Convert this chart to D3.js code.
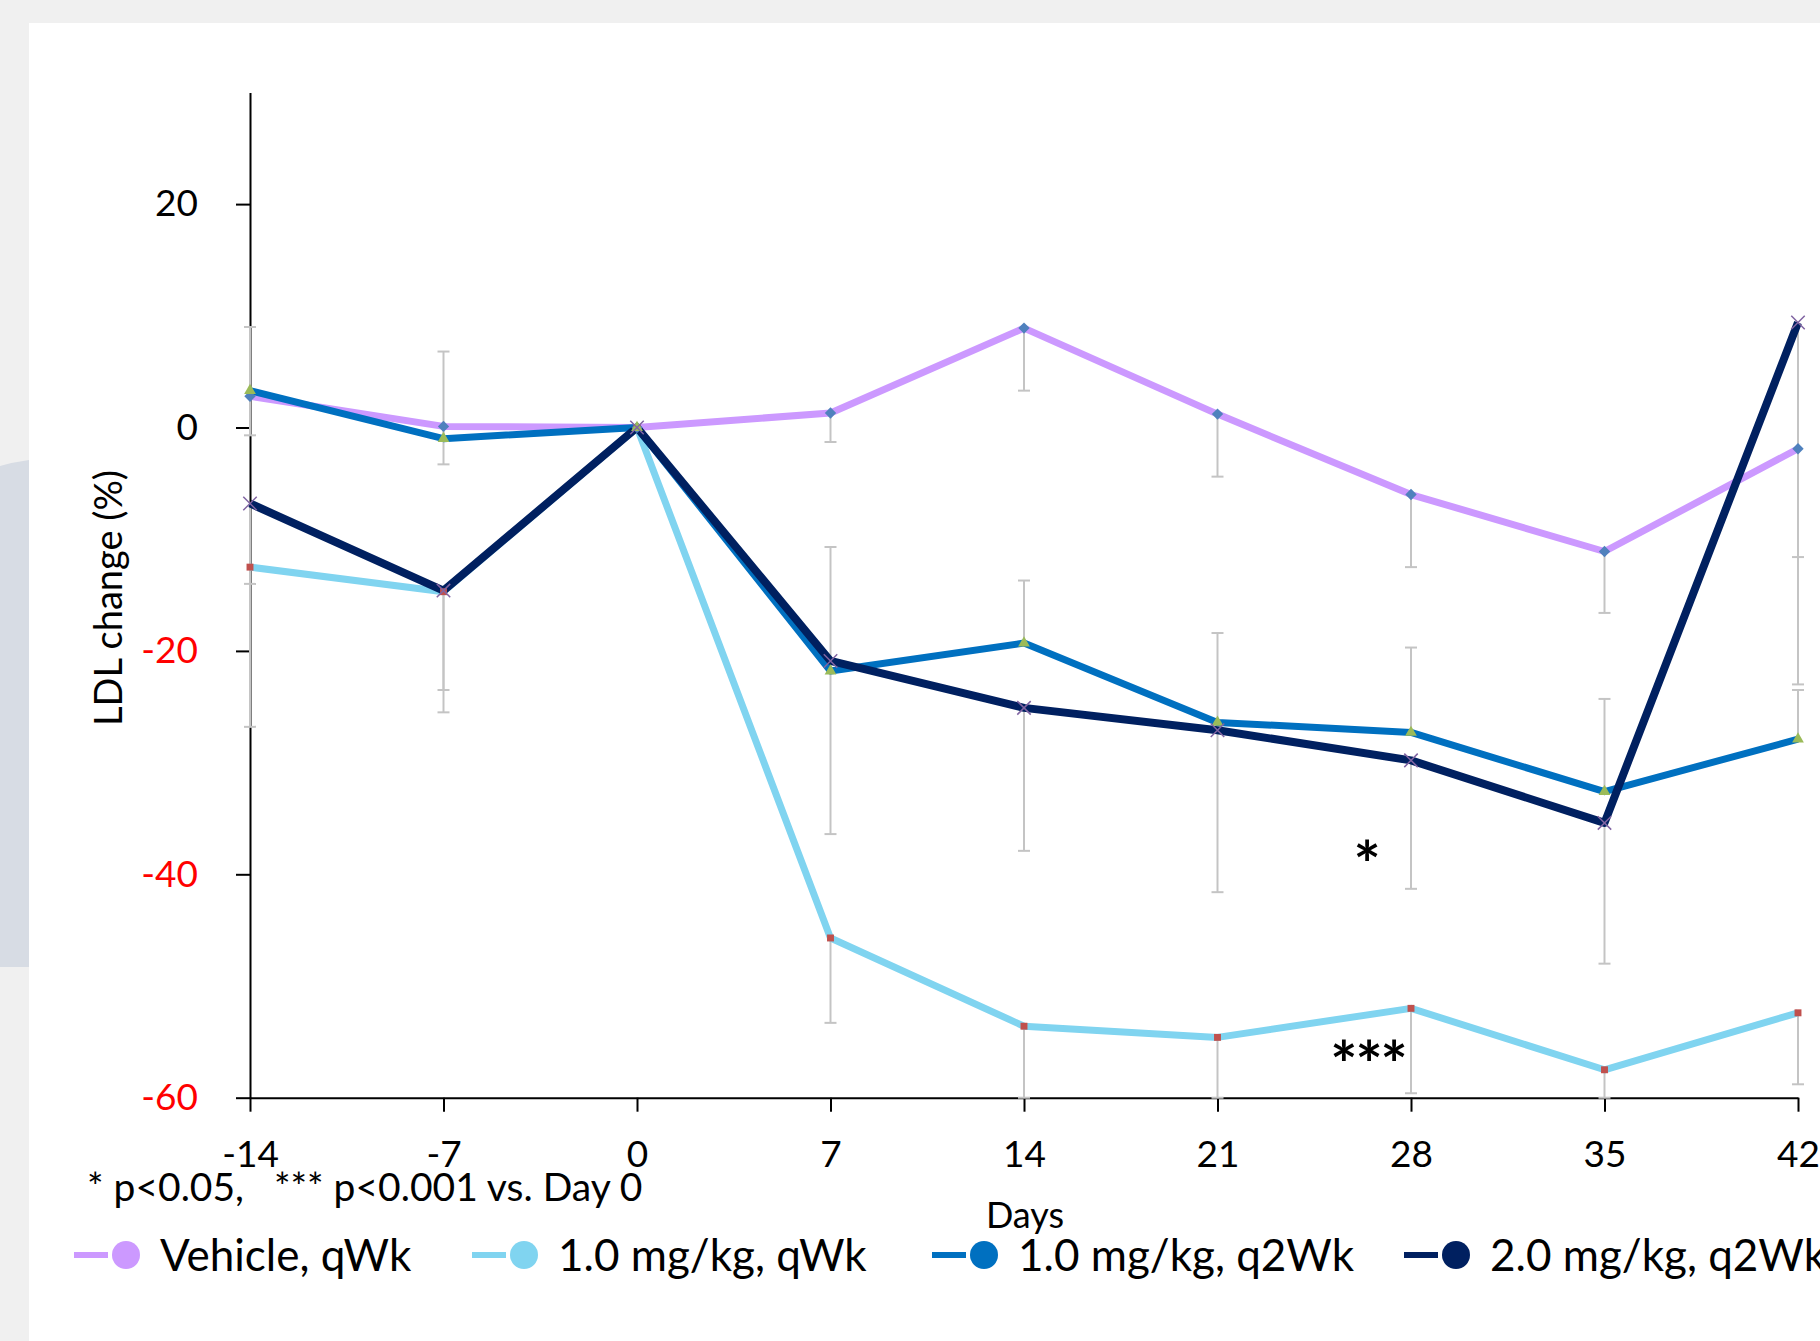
<!DOCTYPE html>
<html>
<head>
<meta charset="utf-8">
<script src="https://cdn.jsdelivr.net/npm/d3@7"></script>
<style>
  html, body { margin: 0; padding: 0; background: #f0f0f0; overflow: hidden; }
  text { font-family: Lato, "Open Sans", sans-serif; fill: #000; }
</style>
</head>
<body>
<div id="chart"></div>
<script>
// ---- data ----
var days = [-14, -7, 0, 7, 14, 21, 28, 35, 42];
var seriesNames = ["Vehicle, qWk", "1.0 mg/kg, qWk", "1.0 mg/kg, q2Wk", "2.0 mg/kg, q2Wk"];
var vehicle = [2.8, 0.1, 0, 1.3, 8.9, 1.2, -6.0, -11.1, -1.9];
var qwk10   = [-12.5, -14.7, 0, -45.7, -53.6, -54.6, -52.0, -57.5, -52.4];
var q2wk10  = [3.3, -1.0, 0, -21.8, -19.3, -26.4, -27.3, -32.6, -27.9];
var q2wk20  = [-6.8, -14.6, 0, -20.9, -25.1, -27.1, -29.8, -35.4, 9.4];
// error bars are drawn one side only (down = -1, up = +1)
var vehicleErr = [3.5, 3.4, 0, 2.6, 5.6, 5.6, 6.5, 5.5, 9.7];
var qwk10Err   = [14.3, 10.8, 0, 7.6, 8.0, 7.0, 7.6, 6.0, 6.4];
var q2wk10Err  = [5.7, 7.8, 0, 11.1, 5.6, 8.0, 7.6, 8.3, 4.4];
var q2wk20Err  = [7.2, 8.9, 0, 15.5, 12.8, 14.5, 11.5, 12.6, 32.4];
var errSide = [-1, -1, 1, -1];
var yTicks = [20, 0, -20, -40, -60];
var redTicks = [-20, -40, -60];
var footnote = "* p<0.05,   *** p<0.001 vs. Day 0";

// ---- styles ----
var lineColors = ["#cc99ff", "#80d4f0", "#0070c0", "#002060"];
var lineWidths = [7, 7, 7, 8];
var markerColors = ["#4f81bd", "#c0504d", "#9bbb59", "#8064a2"];

var svgWidth = 1820, svgHeight = 1341;

var svg = d3.select("#chart")
  .append("svg")
  .attr("width", svgWidth)
  .attr("height", svgHeight);

// slide background
svg.append("rect").attr("width", svgWidth).attr("height", svgHeight).attr("fill", "#f0f0f0");
svg.append("path")
  .attr("d", "M0,466 Q14,462 29,460 L29,967 L0,967 Z")
  .attr("fill", "#d7dce4");
svg.append("rect").attr("x", 29).attr("y", 23).attr("width", svgWidth).attr("height", svgHeight)
  .attr("fill", "#ffffff");

var x = d3.scaleLinear().domain([-14, 42]).range([250, 1798]);
var y = d3.scaleLinear().domain([-60, 30]).range([1097.7, 92.4]);

var series = [
  {name: seriesNames[0], values: vehicle, err: vehicleErr},
  {name: seriesNames[1], values: qwk10, err: qwk10Err},
  {name: seriesNames[2], values: q2wk10, err: q2wk10Err},
  {name: seriesNames[3], values: q2wk20, err: q2wk20Err}
];

var plain = function(d){ return String(d); };

// axes
var yAxis = svg.append("g")
  .attr("transform", "translate(" + x(-14) + ",0)")
  .call(d3.axisLeft(y).tickValues(yTicks).tickFormat(plain).tickSize(14).tickSizeOuter(0).tickPadding(38));
yAxis.select(".domain").attr("stroke", "#000").attr("stroke-width", 2);
yAxis.selectAll(".tick line").attr("stroke", "#000").attr("stroke-width", 2);
yAxis.selectAll(".tick text")
  .attr("font-size", 37)
  .attr("font-family", "Lato, 'Open Sans', sans-serif")
  .style("fill", function(d){ return redTicks.indexOf(d) >= 0 ? "#ff0000" : "#000"; });

var xAxis = svg.append("g")
  .attr("transform", "translate(0," + y(-60) + ")")
  .call(d3.axisBottom(x).tickValues(days).tickFormat(plain).tickSize(14).tickSizeOuter(0));
xAxis.select(".domain").attr("stroke", "#000").attr("stroke-width", 2);
xAxis.selectAll(".tick line").attr("stroke", "#000").attr("stroke-width", 2);
xAxis.selectAll(".tick text")
  .attr("font-size", 37)
  .attr("font-family", "Lato, 'Open Sans', sans-serif")
  .attr("dy", 0)
  .attr("y", 69);

// error bars
var errG = svg.append("g");
series.forEach(function(s, i){
  s.values.forEach(function(v, j){
    if (!s.err[j]) return;
    var end = Math.max(-60, v + errSide[i] * s.err[j]);
    errG.append("line")
      .attr("x1", x(days[j])).attr("x2", x(days[j]))
      .attr("y1", y(v)).attr("y2", y(end))
      .attr("stroke", "#c4c4c4").attr("stroke-width", 2);
    errG.append("line")
      .attr("x1", x(days[j]) - 6).attr("x2", x(days[j]) + 6)
      .attr("y1", y(end)).attr("y2", y(end))
      .attr("stroke", "#c4c4c4").attr("stroke-width", 2);
  });
});

// lines
var line = d3.line()
  .x(function(d, j){ return x(days[j]); })
  .y(function(d){ return y(d); });

series.forEach(function(s, i){
  svg.append("path")
    .datum(s.values)
    .attr("fill", "none")
    .attr("stroke", lineColors[i])
    .attr("stroke-width", lineWidths[i])
    .attr("stroke-linejoin", "round")
    .attr("d", line);
});

// markers
var markerSymbols = [
  d3.symbol().type(d3.symbolSquare).size(64),
  d3.symbol().type(d3.symbolSquare).size(48),
  d3.symbol().type(d3.symbolTriangle).size(60),
  d3.symbol().type(d3.symbolX).size(120)
];
series.forEach(function(s, i){
  svg.append("g").selectAll("path")
    .data(s.values)
    .enter()
    .append("path")
    .attr("transform", function(d, j){
      return "translate(" + x(days[j]) + "," + y(d) + ")" + (i === 0 ? " rotate(45)" : "");
    })
    .attr("d", markerSymbols[i])
    .attr("fill", i === 3 ? "none" : markerColors[i])
    .attr("stroke", i === 3 ? markerColors[i] : "none")
    .attr("stroke-width", 1.5);
});

// significance marks
svg.append("text")
  .attr("x", 1367).attr("y", 888)
  .attr("text-anchor", "middle")
  .attr("font-family", "'DejaVu Sans', sans-serif")
  .attr("font-weight", "bold")
  .attr("font-size", 64)
  .text("*");
svg.append("text")
  .attr("x", 1368).attr("y", 1088)
  .attr("text-anchor", "middle")
  .attr("font-family", "'DejaVu Sans', sans-serif")
  .attr("font-weight", "bold")
  .attr("font-size", 64)
  .attr("letter-spacing", -2)
  .text("***");

// axis titles
svg.append("text")
  .attr("transform", "translate(122,598) rotate(-90)")
  .attr("text-anchor", "middle")
  .attr("font-size", 38)
  .text("LDL change (%)");

svg.append("text")
  .attr("x", 1025).attr("y", 1228)
  .attr("text-anchor", "middle")
  .attr("font-size", 36)
  .text("Days");

svg.append("text")
  .attr("x", 87).attr("y", 1201)
  .attr("font-size", 39)
  .style("white-space", "pre")
  .text(footnote);

// legend
var legendX = [74, 472, 932, 1404];
var legendY = 1255;
series.forEach(function(s, i){
  var g = svg.append("g").attr("transform", "translate(" + legendX[i] + "," + legendY + ")");
  g.append("line").attr("x1", 0).attr("x2", 34).attr("y1", 0).attr("y2", 0)
    .attr("stroke", lineColors[i]).attr("stroke-width", 6);
  g.append("circle").attr("cx", 52).attr("r", 14).attr("fill", lineColors[i]);
  g.append("text").attr("x", 86).attr("y", 16).attr("font-size", 44).text(s.name);
});
</script>
</body>
</html>
